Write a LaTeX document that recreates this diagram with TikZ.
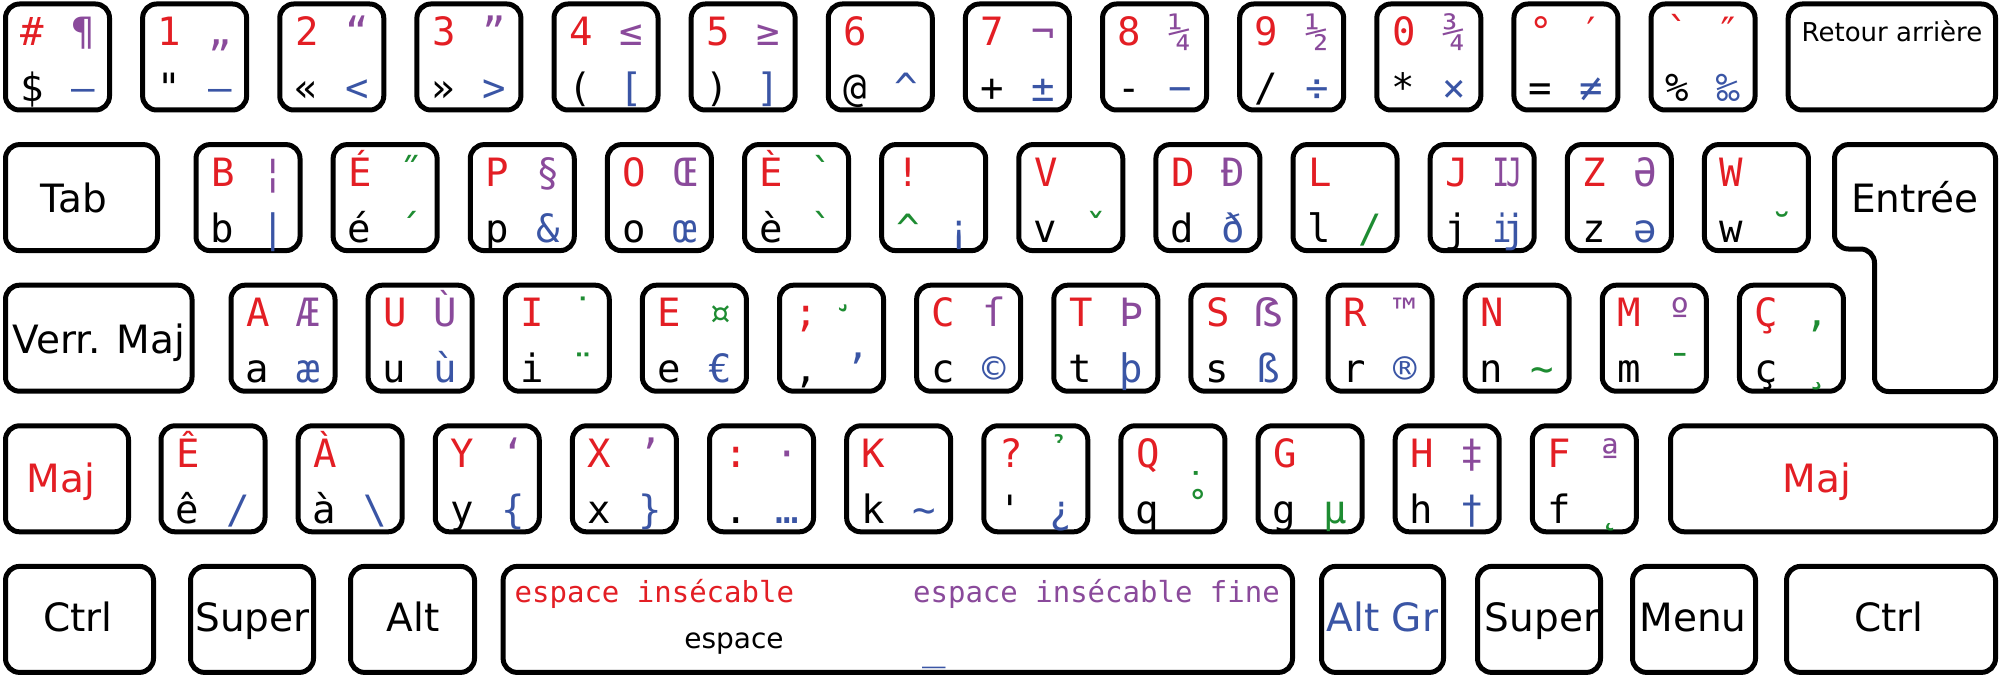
\documentclass[tikz,border=0pt]{standalone}
\usepackage{fontspec}
\setmainfont{DejaVu Sans}
\newfontfamily\monof[Ligatures=TeXOff]{DejaVu Sans Mono}
\newfontfamily\sharpf{DejaVu Sans}
\definecolor{kred}{RGB}{227,30,36}
\definecolor{kpur}{RGB}{138,74,155}
\definecolor{kblu}{RGB}{58,85,165}
\definecolor{kgrn}{RGB}{30,140,50}
\newcommand\gr[1]{\textcolor{kgrn}{#1}}
\newcommand\rd[1]{\textcolor{kred}{#1}}
% combining mark on a no-break space, pulled back over the key position
\newcommand\cmb[1]{\hspace*{-26pt}^^^^00a0#1\hspace*{26pt}}
\tikzset{
  keybox/.style={draw=black, line width=5pt, rounded corners=14pt, minimum width=104pt,
    minimum height=106pt, inner sep=0pt, fill=white},
  ch/.style={anchor=base, inner sep=0pt, font=\monof\fontsize{39}{39}\selectfont},
  lbl/.style={anchor=base, inner sep=0pt, font=\fontsize{39}{39}\selectfont},
  sp/.style={anchor=base, inner sep=0pt, font=\monof\fontsize{29}{29}\selectfont},
}
% name, left x, top y, TL (red), TR (purple), BL (black), BR (blue)
\newcommand\kkey[7]{%
  \node[keybox] (#1) at (#2+54.5,#3+55.5) {};
  \node[ch,text=kred] (#1-tl) at (#2+29.5,#3+44) {#4};
  \node[ch,text=kpur] (#1-tr) at (#2+80,#3+44) {#5};
  \node[ch,text=black] (#1-bl) at (#2+29,#3+100) {#6};
  \node[ch,text=kblu] (#1-br) at (#2+80,#3+100) {#7};
}
\begin{document}
\begin{tikzpicture}[x=1pt,y=-1pt]
\useasboundingbox (0,0) rectangle (2002,679);
% ---------- row 1 ----------
\kkey{a1}{3}{1.5}{\#}{¶}{\$}{–}
\kkey{a2}{140.13}{1.5}{1}{„}{"}{—}
\kkey{a3}{277.26}{1.5}{2}{“}{«}{<}
\kkey{a4}{414.39}{1.5}{3}{”}{»}{>}
\kkey{a5}{551.52}{1.5}{4}{≤}{(}{[}
\kkey{a6}{688.65}{1.5}{5}{≥}{)}{]}
\kkey{a7}{825.78}{1.5}{6}{}{@}{\textasciicircum}
\kkey{a8}{962.91}{1.5}{7}{¬}{+}{±}
\kkey{a9}{1100.04}{1.5}{8}{¼}{-}{−}
\kkey{a10}{1237.17}{1.5}{9}{½}{/}{÷}
\kkey{a11}{1374.3}{1.5}{0}{¾}{*}{×}
\kkey{a12}{1511.43}{1.5}{°}{\rd{′}}{=}{≠}
\kkey{a13}{1648.56}{1.5}{`}{\rd{″}}{\%}{‰}
\node[keybox, minimum width=207.3pt] (bksp) at (1891.85,57) {};
\node[lbl, font=\fontsize{26}{26}\selectfont] (bksp-t) at (1892,42) {Retour arrière};
% ---------- row 2 ----------
\node[keybox, minimum width=152pt] (tab) at (81.5,197.6) {};
\node[lbl] (tab-t) at (74,213) {Tab};
\kkey{b1}{193.5}{142.1}{B}{¦}{b}{|}
\kkey{b2}{330.63}{142.1}{É}{\gr{˝}}{é}{\gr{´}}
\kkey{b3}{467.76}{142.1}{P}{§}{p}{\&}
\kkey{b4}{604.89}{142.1}{O}{Œ}{o}{œ}
\kkey{b5}{742.02}{142.1}{È}{\gr{`}}{è}{\gr{`}}
\kkey{b6}{879.15}{142.1}{!}{}{\gr{\textasciicircum}}{¡}
\kkey{b7}{1016.28}{142.1}{V}{}{v}{\gr{ˇ}}
\kkey{b8}{1153.41}{142.1}{D}{Đ}{d}{ð}
\kkey{b9}{1290.54}{142.1}{L}{}{l}{\gr{/}}
\kkey{b10}{1427.67}{142.1}{J}{Ĳ}{j}{ĳ}
\kkey{b11}{1564.8}{142.1}{Z}{Ə}{z}{ə}
\kkey{b12}{1701.93}{142.1}{W}{}{w}{\gr{˘}}
\draw[line width=5pt, rounded corners=14pt, fill=white]
  (1834.5,144.6) -- (1995.5,144.6) -- (1995.5,391.5) -- (1874.5,391.5)
  -- (1874.5,249) -- (1834.5,249) -- cycle;
\node[lbl] (enter-t) at (1915,212) {Entrée};
% ---------- row 3 ----------
\node[keybox, minimum width=186.5pt] (caps) at (98.75,338.2) {};
\node[lbl] (caps-t) at (99,353) {Verr. Maj};
\kkey{c1}{228.5}{282.7}{A}{Æ}{a}{æ}
\kkey{c2}{365.63}{282.7}{U}{Ù}{u}{ù}
\kkey{c3}{502.76}{282.7}{I}{\gr{˙}}{i}{\gr{¨}}
\kkey{c4}{639.89}{282.7}{E}{\gr{¤}}{e}{€}
\kkey{c5}{777.02}{282.7}{;}{\gr{\cmb{^^^^031b}}}{,}{’}
\kkey{c6}{914.15}{282.7}{C}{ſ}{c}{©}
\kkey{c7}{1051.28}{282.7}{T}{Þ}{t}{þ}
\kkey{c8}{1188.41}{282.7}{S}{{\sharpf ẞ}}{s}{ß}
\kkey{c9}{1325.54}{282.7}{R}{™}{r}{®}
\kkey{c10}{1462.67}{282.7}{N}{}{n}{\gr{\textasciitilde}}
\kkey{c11}{1599.8}{282.7}{M}{º}{m}{\gr{¯}}
\kkey{c12}{1736.93}{282.7}{Ç}{\gr{,}}{ç}{\gr{¸}}
% ---------- row 4 ----------
\node[keybox, minimum width=123pt] (lshift) at (67,478.8) {};
\node[lbl, text=kred] (lshift-t) at (61,492) {Maj};
\kkey{d1}{158.5}{423.3}{Ê}{}{ê}{/}
\kkey{d2}{295.63}{423.3}{À}{}{à}{\textbackslash}
\kkey{d3}{432.76}{423.3}{Y}{‘}{y}{\{}
\kkey{d4}{569.89}{423.3}{X}{’}{x}{\}}
\kkey{d5}{707.02}{423.3}{:}{·}{.}{…}
\kkey{d6}{844.15}{423.3}{K}{}{k}{\textasciitilde}
\kkey{d7}{981.28}{423.3}{?}{\gr{\cmb{^^^^0309}}}{'}{¿}
\kkey{d8}{1118.41}{423.3}{Q}{\gr{\cmb{^^^^0323}}}{q}{\gr{˚}}
\kkey{d9}{1255.54}{423.3}{G}{}{g}{\gr{µ}}
\kkey{d10}{1392.67}{423.3}{H}{‡}{h}{†}
\kkey{d11}{1529.8}{423.3}{F}{ª}{f}{\gr{˛}}
\node[keybox, minimum width=325pt] (rshift) at (1833,478.8) {};
\node[lbl, text=kred] (rshift-t) at (1817,492) {Maj};
% ---------- row 5 ----------
\node[keybox, minimum width=148pt] (lctrl) at (79.5,619.4) {};
\node[lbl] (lctrl-t) at (78,631) {Ctrl};
\node[keybox, minimum width=123pt] (lsuper) at (252,619.4) {};
\node[lbl] (lsuper-t) at (252.5,631) {Super};
\node[keybox, minimum width=124pt] (alt) at (412.5,619.4) {};
\node[lbl] (alt-t) at (413,631) {Alt};
\node[keybox, minimum width=789.4pt] (space) at (897.8,619.4) {};
\node[sp, text=kred, anchor=base west] (space-tl) at (514.5,602) {espace insécable};
\node[sp, text=kpur, anchor=base east] (space-tr) at (1280,602) {espace insécable fine};
\node[lbl, font=\fontsize{28}{28}\selectfont] (space-bl) at (734,648) {espace};
\node[ch, text=kblu] (space-br) at (934,659) {\_};
\node[keybox, minimum width=122pt] (altgr) at (1382.5,619.4) {};
\node[lbl, text=kblu] (altgr-t) at (1382.5,631) {Alt Gr};
\node[keybox, minimum width=123pt] (rsuper) at (1539,619.4) {};
\node[lbl] (rsuper-t) at (1542,631) {Super};
\node[keybox, minimum width=123pt] (menu) at (1694,619.4) {};
\node[lbl] (menu-t) at (1693,631) {Menu};
\node[keybox, minimum width=209pt] (rctrl) at (1891,619.4) {};
\node[lbl] (rctrl-t) at (1889,631) {Ctrl};
\end{tikzpicture}
\end{document}
